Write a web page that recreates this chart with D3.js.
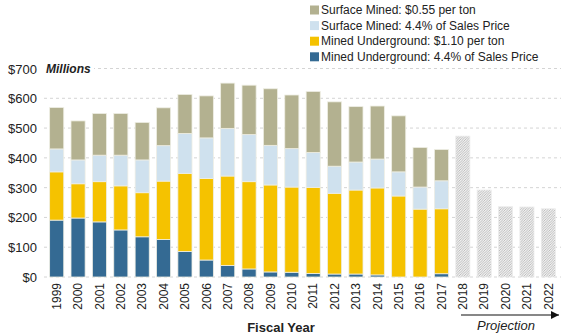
<!DOCTYPE html>
<html>
<head>
<meta charset="utf-8">
<script src="https://cdn.jsdelivr.net/npm/d3@7/dist/d3.min.js"></script>
<style>
  body { margin: 0; background: #fff; }
  text { font-family: "Liberation Sans", Arial, sans-serif; fill: #222; }
</style>
</head>
<body>
<div id="chart"></div>
<script>
// anios fiscales y valores (millones de dolares)
var years = ["1999","2000","2001","2002","2003","2004","2005","2006","2007","2008","2009",
             "2010","2011","2012","2013","2014","2015","2016","2017"];
var projYears = ["2018","2019","2020","2021","2022"];

var underPct  = [191,198,185,158,135,126,86,57,39,27,17,16,12,10,10,7,0,0,11];
var underTon  = [162,115,135,148,148,196,262,274,300,293,292,286,289,271,282,292,272,228,218];
var surfPct   = [77,80,89,103,110,119,134,136,160,158,133,129,117,91,94,97,81,74,94];
var surfTon   = [139,131,140,140,126,127,131,141,152,166,190,180,205,216,186,178,188,133,105];
var projected = [473,292,236,235,229];

var yTicks = [0,100,200,300,400,500,600,700];

var seriesKeys = ["underPct","underTon","surfPct","surfTon"];
var seriesNames = {
  surfTon: "Surface Mined: $0.55 per ton",
  surfPct: "Surface Mined: 4.4% of Sales Price",
  underTon: "Mined Underground: $1.10 per ton",
  underPct: "Mined Underground: 4.4% of Sales Price"
};
var colores = {
  underPct: "#346a93",
  underTon: "#f5c200",
  surfPct: "#cfe1ee",
  surfTon: "#b3b190"
};

var width = 576, height = 335;
var margin = {top: 0, right: 17, bottom: 58, left: 46};

var svg = d3.select("#chart").append("svg")
  .attr("width", width)
  .attr("height", height);

// patron rayado para las proyecciones
var defs = svg.append("defs");
var pat = defs.append("pattern")
  .attr("id","rayas")
  .attr("patternUnits","userSpaceOnUse")
  .attr("width",2.5).attr("height",2.5);
pat.append("rect").attr("width",2.5).attr("height",2.5).attr("fill","#f0f0f0");
pat.append("path")
  .attr("d","M-0.5,0.5 l1,-1 M0,2.5 l2.5,-2.5 M2,3 l1,-1")
  .attr("stroke","#b2b2b2").attr("stroke-width",0.8);

var allYears = years.concat(projYears);

var x = d3.scaleBand()
  .domain(allYears)
  .range([margin.left, width - margin.right])
  .paddingInner(0.34)
  .paddingOuter(0.17);

var y = d3.scaleLinear()
  .domain([0,700])
  .range([277, 68.5]);

// lineas de grilla
svg.append("g").selectAll("line")
  .data(yTicks)
  .enter().append("line")
  .attr("x1", margin.left - 2)
  .attr("x2", width - margin.right + 2)
  .attr("y1", function(d){ return y(d); })
  .attr("y2", function(d){ return y(d); })
  .attr("stroke","#d4d4d4")
  .attr("stroke-width",1)
  .attr("stroke-dasharray","3,3");

// eje y
var yAxis = svg.append("g")
  .attr("transform","translate(" + 37 + ",0)")
  .call(d3.axisLeft(y).tickValues(yTicks).tickSize(0).tickPadding(0)
    .tickFormat(function(d){ return "$" + d; }));
yAxis.select(".domain").remove();
yAxis.selectAll("text")
  .style("font-size","13px")
  .attr("fill","#222")
  .attr("dy","0.35em");

// datos apilados
var tabla = years.map(function(yr, i){
  return {year: yr, underPct: underPct[i], underTon: underTon[i], surfPct: surfPct[i], surfTon: surfTon[i]};
});
var stack = d3.stack().keys(seriesKeys)(tabla);

svg.append("g").selectAll("g")
  .data(stack)
  .enter().append("g")
  .attr("fill", function(d){ return colores[d.key]; })
  .selectAll("rect")
  .data(function(d){ return d; })
  .enter().append("rect")
  .filter(function(d){ return d[1] - d[0] > 0; })
  .attr("x", function(d){ return x(d.data.year); })
  .attr("width", x.bandwidth())
  .attr("y", function(d){ return y(d[1]); })
  .attr("height", function(d){ return y(d[0]) - y(d[1]); })
  .attr("stroke","#eeeee4")
  .attr("stroke-width",0.8);

// proyecciones
svg.append("g").selectAll("rect")
  .data(projected)
  .enter().append("rect")
  .attr("x", function(d,i){ return x(projYears[i]); })
  .attr("width", x.bandwidth())
  .attr("y", function(d){ return y(d); })
  .attr("height", function(d){ return y(0) - y(d); })
  .attr("fill","url(#rayas)")
  .attr("stroke","#ececec")
  .attr("stroke-width",0.8);

// etiqueta Millions
svg.append("rect")
  .attr("x",44).attr("y",60).attr("width",50).attr("height",16)
  .attr("fill","#fff");
svg.append("text")
  .attr("x",46).attr("y",y(700) + 4.5)
  .style("font-size","12px")
  .style("font-weight","bold")
  .style("font-style","italic")
  .text("Millions");

// eje x con anios rotados
var xAxis = svg.append("g")
  .attr("transform","translate(0," + 280 + ")")
  .call(d3.axisBottom(x).tickSize(0).tickPadding(0));
xAxis.select(".domain").remove();
xAxis.selectAll("text")
  .style("font-size","12px")
  .attr("fill","#222")
  .attr("transform","rotate(-90)")
  .attr("text-anchor","end")
  .attr("x",-3)
  .attr("y",0)
  .attr("dy","0.35em");

svg.append("text")
  .attr("x",281).attr("y",332)
  .attr("text-anchor","middle")
  .style("font-size","13px")
  .style("font-weight","bold")
  .text("Fiscal Year");

// flecha de proyeccion
defs.append("marker")
  .attr("id","punta")
  .attr("viewBox","0 0 10 10")
  .attr("refX",10).attr("refY",5)
  .attr("markerWidth",8).attr("markerHeight",8)
  .attr("markerUnits","userSpaceOnUse")
  .attr("orient","auto")
  .append("path").attr("d","M0,0 L10,5 L0,10 z").attr("fill","#111");

svg.append("line")
  .attr("x1",461).attr("x2",559)
  .attr("y1",315).attr("y2",315)
  .attr("stroke","#111").attr("stroke-width",1.2)
  .attr("marker-end","url(#punta)");

svg.append("text")
  .attr("x",506).attr("y",330)
  .attr("text-anchor","middle")
  .style("font-size","13px")
  .style("font-style","italic")
  .text("Projection");

// leyenda
var legendKeys = ["surfTon","surfPct","underTon","underPct"];
var leg = svg.append("g").selectAll("g")
  .data(legendKeys)
  .enter().append("g")
  .attr("transform", function(d,i){ return "translate(310," + (10 + i*15.6) + ")"; });
leg.append("rect")
  .attr("x",0).attr("y",-4.5)
  .attr("width",9).attr("height",9)
  .attr("fill", function(d){ return colores[d]; });
leg.append("text")
  .attr("x",11).attr("y",0)
  .attr("dy","0.35em")
  .style("font-size","12px")
  .text(function(d){ return seriesNames[d]; });
</script>
</body>
</html>
